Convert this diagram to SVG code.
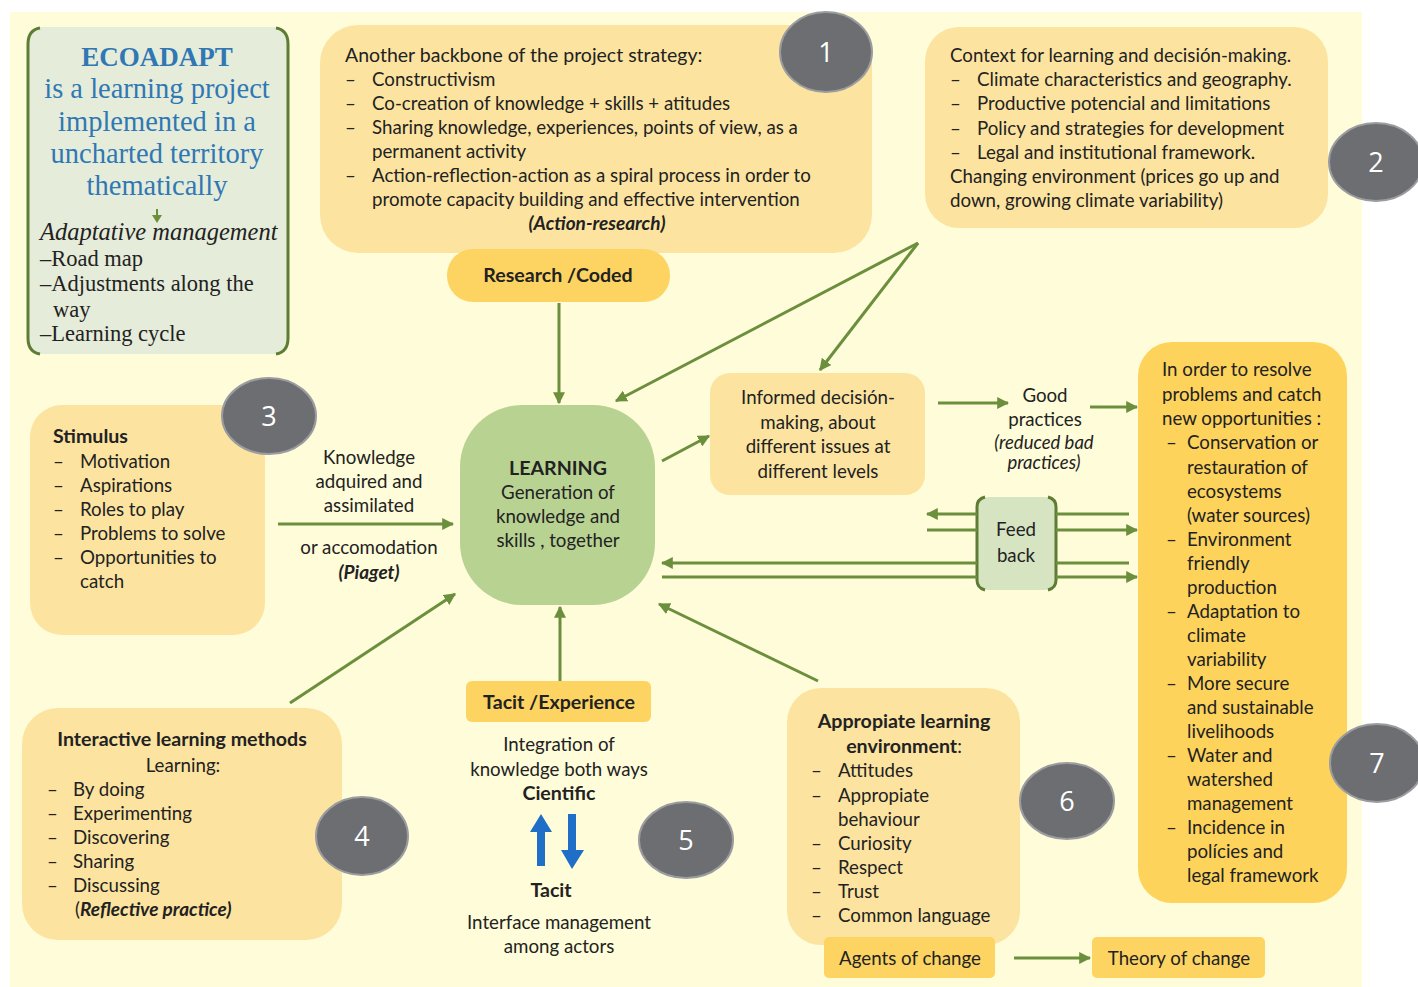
<svg xmlns="http://www.w3.org/2000/svg" width="1418" height="987" viewBox="0 0 1418 987">
  <defs>
    <marker id="ah" viewBox="0 0 10 10" refX="9" refY="5" markerWidth="4" markerHeight="4" orient="auto-start-reverse" markerUnits="strokeWidth">
      <path d="M0,0 L10,5 L0,10 z" fill="#6b8f3c"/>
    </marker>
    <style>
      text { font-family: Lato, "Liberation Sans", sans-serif; font-size: 18.7px; fill: #222; }
      .b { font-weight: bold; }
      .h { font-weight: bold; font-size: 19.6px; }
      .bi { font-weight: bold; font-style: italic; font-size: 19px; }
      .it { font-style: italic; font-size: 18.5px; }
      .c { text-anchor: middle; }
      .serif { font-family: "Liberation Serif", "DejaVu Serif", serif; }
      .blue { fill: #2f78b4; font-size: 28.5px; }
      .sl { font-size: 22.5px; }
      .num { fill: #ffffff; font-size: 27px; text-anchor: middle; font-family: "Open Sans", Lato, sans-serif; }
      .bubble { fill: #6c6e71; stroke: #9a9c9f; stroke-width: 2; }
      .pale { fill: #fce4a0; }
      .gold { fill: #fdd462; }
      .conn { stroke: #6b8f3c; stroke-width: 3; fill: none; }
      .arr { marker-end: url(#ah); }
      .brk { stroke: #5e7d34; stroke-width: 3; fill: none; }
    </style>
  </defs>

  <!-- page -->
  <rect x="0" y="0" width="1418" height="987" fill="#ffffff"/>
  <rect x="10" y="12" width="1352" height="975" fill="#fefcd9"/>

  <!-- project card -->
  <g id="ecoadapt">
    <rect x="28" y="27" width="260" height="327" rx="14" fill="#e6ecda"/>
    <path class="brk" d="M40,28 Q28,30 28,44 L28,338 Q28,352 40,354"/>
    <path class="brk" d="M276,28 Q288,30 288,44 L288,338 Q288,352 276,354"/>
    <text class="serif blue c b" x="157" y="66" style="font-size:27px">ECOADAPT</text>
    <text class="serif blue c" x="157" y="98">is a learning project</text>
    <text class="serif blue c" x="157" y="131">implemented in a</text>
    <text class="serif blue c" x="157" y="163">uncharted territory</text>
    <text class="serif blue c" x="157" y="195">thematically</text>
    <path d="M157,209 L157,217" stroke="#6b8f3c" stroke-width="2"/>
    <path d="M152,215 L162,215 L157,223 z" fill="#6b8f3c"/>
    <text class="serif" x="40" y="240" style="font-size:24.5px;font-style:italic">Adaptative management</text>
    <text class="serif sl" x="40" y="266">–Road map</text>
    <text class="serif sl" x="40" y="291">–Adjustments along the</text>
    <text class="serif sl" x="53" y="317">way</text>
    <text class="serif sl" x="40" y="341">–Learning cycle</text>
  </g>

  <!-- strategy card -->
  <g id="strategy">
    <rect class="pale" x="320" y="25" width="552" height="228" rx="38"/>
    <text x="345" y="62" style="font-size:19.5px">Another backbone of the project strategy:</text>
    <text x="345" y="86">–</text><text x="372" y="86">Constructivism</text>
    <text x="345" y="110">–</text><text x="372" y="110">Co-creation of knowledge + skills + atitudes</text>
    <text x="345" y="134">–</text><text x="372" y="134">Sharing knowledge, experiences, points of view, as a</text>
    <text x="372" y="158">permanent activity</text>
    <text x="345" y="182">–</text><text x="372" y="182">Action-reflection-action as a spiral process in order to</text>
    <text x="372" y="206">promote capacity building and effective intervention</text>
    <text class="bi c" x="597" y="230">(Action-research)</text>
  </g>
  <g id="badge-1"><ellipse class="bubble" cx="826" cy="52" rx="46" ry="40"/><text class="num" x="826" y="62">1</text></g>

  <g id="research">
    <rect class="gold" x="447" y="249" width="223" height="53" rx="26"/>
    <text class="h c" x="558" y="282">Research /Coded</text>
  </g>

  <!-- context card -->
  <g id="context">
    <rect class="pale" x="925" y="27" width="403" height="201" rx="34"/>
    <text x="950" y="62">Context for learning and decisión-making.</text>
    <text x="950" y="86">–</text><text x="977" y="86">Climate characteristics and geography.</text>
    <text x="950" y="110">–</text><text x="977" y="110">Productive potencial and limitations</text>
    <text x="950" y="135">–</text><text x="977" y="135">Policy and strategies for development</text>
    <text x="950" y="159">–</text><text x="977" y="159">Legal and institutional framework.</text>
    <text x="950" y="183">Changing environment (prices go up and</text>
    <text x="950" y="207">down, growing climate variability)</text>
  </g>
  <g id="badge-2"><ellipse class="bubble" cx="1376" cy="162" rx="47" ry="39"/><text class="num" x="1376" y="172">2</text></g>

  <!-- stimulus card -->
  <g id="stimulus">
    <rect class="pale" x="30" y="405" width="235" height="230" rx="32"/>
    <text class="h" x="53" y="443">Stimulus</text>
    <text x="53" y="468">–</text><text x="80" y="468">Motivation</text>
    <text x="53" y="492">–</text><text x="80" y="492">Aspirations</text>
    <text x="53" y="516">–</text><text x="80" y="516">Roles to play</text>
    <text x="53" y="540">–</text><text x="80" y="540">Problems to solve</text>
    <text x="53" y="564">–</text><text x="80" y="564">Opportunities to</text>
    <text x="80" y="588">catch</text>
  </g>
  <g id="badge-3"><ellipse class="bubble" cx="269" cy="416" rx="47" ry="38"/><text class="num" x="269" y="426">3</text></g>

  <g id="piaget-label">
    <text class="c" x="369" y="464">Knowledge</text>
    <text class="c" x="369" y="488">adquired and</text>
    <text class="c" x="369" y="512">assimilated</text>
    <text class="c" x="369" y="554">or accomodation</text>
    <text class="bi c" x="369" y="579">(Piaget)</text>
  </g>

  <!-- central node -->
  <g id="learning">
    <rect x="460" y="405" width="195" height="200" rx="62" fill="#b8d292"/>
    <text class="h c" x="558" y="475">LEARNING</text>
    <text class="c" x="558" y="499">Generation of</text>
    <text class="c" x="558" y="523">knowledge and</text>
    <text class="c" x="558" y="547">skills , together</text>
  </g>

  <g id="informed">
    <rect class="pale" x="710" y="373" width="215" height="122" rx="20"/>
    <text class="c" x="818" y="404">Informed decisión-</text>
    <text class="c" x="818" y="429">making, about</text>
    <text class="c" x="818" y="453">different issues at</text>
    <text class="c" x="818" y="478">different levels</text>
  </g>

  <g id="good-practices">
    <text class="c" x="1045" y="402">Good</text>
    <text class="c" x="1045" y="426">practices</text>
    <text class="it c" x="1044" y="449">(reduced bad</text>
    <text class="it c" x="1044" y="469">practices)</text>
  </g>

  <g id="feedback">
    <rect x="977" y="497" width="79" height="93" rx="12" fill="#d6e4c2"/>
    <path class="brk" d="M985,497 Q977,499 977,507 L977,580 Q977,588 985,590"/>
    <path class="brk" d="M1048,497 Q1056,499 1056,507 L1056,580 Q1056,588 1048,590"/>
    <text class="c" x="1016" y="536">Feed</text>
    <text class="c" x="1016" y="562">back</text>
  </g>

  <!-- outcomes card -->
  <g id="outcomes" style="font-size:19px">
    <rect x="1138" y="342" width="209" height="561" rx="34" fill="#fdd35c"/>
    <text x="1162" y="376">In order to resolve</text>
    <text x="1162" y="401">problems and catch</text>
    <text x="1162" y="425">new opportunities :</text>
    <text x="1166" y="449">–</text><text x="1187" y="449">Conservation or</text>
    <text x="1187" y="474">restauration of</text>
    <text x="1187" y="498">ecosystems</text>
    <text x="1187" y="522">(water sources)</text>
    <text x="1166" y="546">–</text><text x="1187" y="546">Environment</text>
    <text x="1187" y="570">friendly</text>
    <text x="1187" y="594">production</text>
    <text x="1166" y="618">–</text><text x="1187" y="618">Adaptation to</text>
    <text x="1187" y="642">climate</text>
    <text x="1187" y="666">variability</text>
    <text x="1166" y="690">–</text><text x="1187" y="690">More secure</text>
    <text x="1187" y="714">and sustainable</text>
    <text x="1187" y="738">livelihoods</text>
    <text x="1166" y="762">–</text><text x="1187" y="762">Water and</text>
    <text x="1187" y="786">watershed</text>
    <text x="1187" y="810">management</text>
    <text x="1166" y="834">–</text><text x="1187" y="834">Incidence  in</text>
    <text x="1187" y="858">polícies and</text>
    <text x="1187" y="882">legal framework</text>
  </g>
  <g id="badge-7"><ellipse class="bubble" cx="1377" cy="763" rx="47" ry="39"/><text class="num" x="1377" y="773">7</text></g>

  <!-- methods card -->
  <g id="methods">
    <rect class="pale" x="22" y="708" width="320" height="232" rx="36"/>
    <text class="h c" x="182" y="746">Interactive learning methods</text>
    <text class="c" x="183" y="772">Learning:</text>
    <text x="47" y="796">–</text><text x="73" y="796">By doing</text>
    <text x="47" y="820">–</text><text x="73" y="820">Experimenting</text>
    <text x="47" y="844">–</text><text x="73" y="844">Discovering</text>
    <text x="47" y="868">–</text><text x="73" y="868">Sharing</text>
    <text x="47" y="892">–</text><text x="73" y="892">Discussing</text>
    <text x="75" y="916">(<tspan class="bi">Reflective practice)</tspan></text>
  </g>
  <g id="badge-4"><ellipse class="bubble" cx="362" cy="836" rx="46" ry="39"/><text class="num" x="362" y="846">4</text></g>

  <g id="tacit">
    <rect class="gold" x="466" y="681" width="185" height="41" rx="6"/>
    <text class="h c" x="559" y="709">Tacit /Experience</text>
    <text class="c" x="559" y="751">Integration of</text>
    <text class="c" x="559" y="776">knowledge both ways</text>
    <text class="h c" x="559" y="800">Cientific</text>
    <path d="M537,866 L537,832 L530,832 L541,814 L552,832 L545,832 L545,866 z" fill="#1f6fc8"/>
    <path d="M568,814 L576,814 L576,850 L584,850 L572,869 L561,850 L568,850 z" fill="#1f6fc8"/>
    <text class="h c" x="551" y="897">Tacit</text>
    <text class="c" x="559" y="929">Interface management</text>
    <text class="c" x="559" y="953">among actors</text>
  </g>
  <g id="badge-5"><ellipse class="bubble" cx="686" cy="840" rx="47" ry="38"/><text class="num" x="686" y="850">5</text></g>

  <!-- environment card -->
  <g id="environment">
    <rect class="pale" x="787" y="688" width="233" height="257" rx="34"/>
    <text class="h c" x="904" y="728">Appropiate learning</text>
    <text class="c" x="904" y="753"><tspan class="h">environment</tspan>:</text>
    <text x="811" y="777">–</text><text x="838" y="777">Attitudes</text>
    <text x="811" y="802">–</text><text x="838" y="802">Appropiate</text>
    <text x="838" y="826">behaviour</text>
    <text x="811" y="850">–</text><text x="838" y="850">Curiosity</text>
    <text x="811" y="874">–</text><text x="838" y="874">Respect</text>
    <text x="811" y="898">–</text><text x="838" y="898">Trust</text>
    <text x="811" y="922">–</text><text x="838" y="922">Common language</text>
  </g>
  <g id="badge-6"><ellipse class="bubble" cx="1067" cy="801" rx="47" ry="38"/><text class="num" x="1067" y="811">6</text></g>

  <g id="agents">
    <rect class="gold" x="824" y="937" width="171" height="41" rx="5"/>
    <text class="c" x="910" y="965">Agents of change</text>
  </g>
  <g id="theory">
    <rect class="gold" x="1092" y="937" width="173" height="41" rx="5"/>
    <text class="c" x="1179" y="965">Theory of change</text>
  </g>

  <!-- connectors -->
  <g id="connectors">
    <line class="conn arr" x1="559" y1="303" x2="559" y2="403"/>
    <line class="conn arr" x1="918" y1="243" x2="616" y2="401"/>
    <line class="conn arr" x1="918" y1="243" x2="820" y2="370"/>
    <line class="conn arr" x1="662" y1="461" x2="709" y2="436"/>
    <line class="conn arr" x1="938" y1="403" x2="1008" y2="403"/>
    <line class="conn arr" x1="1090" y1="407" x2="1137" y2="407"/>
    <line class="conn arr" x1="278" y1="524" x2="453" y2="524"/>
    <line class="conn arr" x1="290" y1="703" x2="455" y2="594"/>
    <line class="conn arr" x1="560" y1="681" x2="560" y2="607"/>
    <line class="conn arr" x1="818" y1="681" x2="659" y2="604"/>
    <line class="conn arr" x1="977" y1="514" x2="927" y2="514"/>
    <line class="conn" x1="927" y1="530" x2="977" y2="530"/>
    <line class="conn" x1="1056" y1="514" x2="1129" y2="514"/>
    <line class="conn arr" x1="1056" y1="530" x2="1137" y2="530"/>
    <line class="conn arr" x1="977" y1="563" x2="662" y2="563"/>
    <line class="conn" x1="662" y1="577" x2="977" y2="577"/>
    <line class="conn" x1="1056" y1="563" x2="1129" y2="563"/>
    <line class="conn arr" x1="1056" y1="577" x2="1137" y2="577"/>
    <line class="conn arr" x1="1014" y1="958" x2="1090" y2="958"/>
  </g>
</svg>
